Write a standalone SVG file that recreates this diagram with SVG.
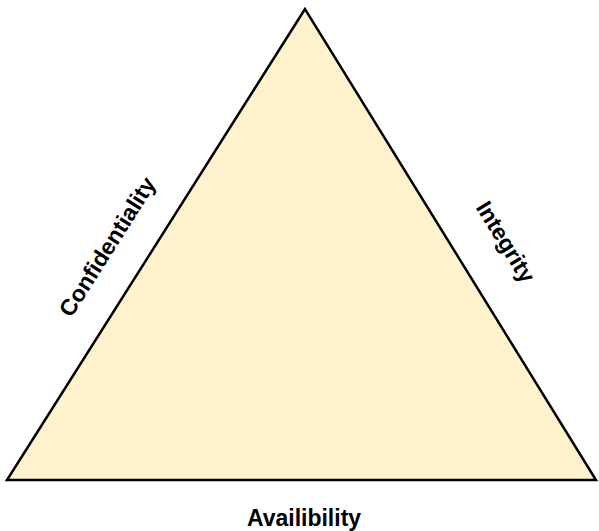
<svg xmlns="http://www.w3.org/2000/svg" width="599" height="531" viewBox="0 0 599 531">
<style>
.lbl{font-family:"Liberation Sans",Arial,sans-serif;font-weight:bold;font-size:23px;fill:#000;text-anchor:middle}
</style>
<rect width="599" height="531" fill="#fff"/>
<g id="triangle">
<polygon points="305,9 7,480 596,480" fill="#FFF2CC" stroke="#000" stroke-width="2.5" stroke-linejoin="miter"/>
</g>
<g id="labels">
<text class="lbl" transform="translate(114,251) rotate(-57.7)">Confidentiality</text>
<text class="lbl" transform="translate(499,246) rotate(58.3)">Integrity</text>
<text class="lbl" x="304" y="526">Availibility</text>
</g>
</svg>
